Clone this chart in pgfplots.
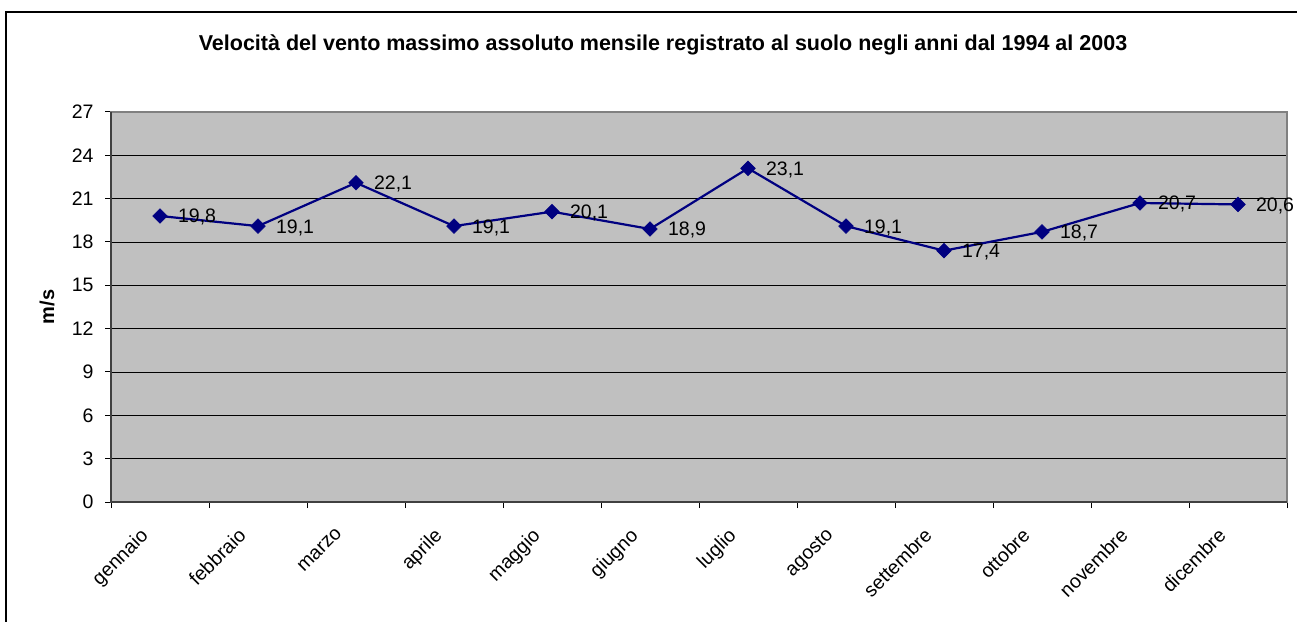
\documentclass[border=0pt]{standalone}
\usepackage{pgfplots}
\pgfplotsset{compat=1.18}
\usepackage{fontspec}
\setmainfont{Liberation Sans}
\definecolor{plotbg}{HTML}{C0C0C0}
\definecolor{navy}{HTML}{000080}
\definecolor{spine}{HTML}{808080}
\begin{document}
\begin{tikzpicture}[x=1pt,y=1pt]
\path[use as bounding box] (0,0) rectangle (1297,621);
\draw[line width=1.3pt,black] (6,-2) -- (6,609) -- (1299,609);
\node[font=\bfseries\fontsize{21.5}{24}\selectfont] at (663,576) {Velocità del vento massimo assoluto mensile registrato al suolo negli anni dal 1994 al 2003};
\node[font=\bfseries\fontsize{20}{24}\selectfont, rotate=90] at (47,314) {m/s};
\begin{axis}[
  at={(111pt,119pt)}, anchor=south west,
  scale only axis, width=1176pt, height=390pt,
  xmin=0.5, xmax=12.5, ymin=0, ymax=27,
  axis background/.style={fill=plotbg},
  axis line style={draw=spine, line width=2pt},
  ytick={0,3,...,27},
  xtick={1,...,12},
  minor xtick={0.5,1.5,...,12.5},
  xticklabels={gennaio,febbraio,marzo,aprile,maggio,giugno,luglio,agosto,settembre,ottobre,novembre,dicembre},
  ymajorgrids, major grid style={black, line width=0.9pt},
  tick align=outside, tick pos=left,
  major tick length=6pt,
  minor tick length=6pt,
  every tick/.style={black, line width=1pt},
  major x tick style={draw=none},
  ticklabel style={font=\fontsize{19.5}{22}\selectfont},
  /pgf/number format/assume math mode=true,
  xticklabel style={xshift=-21pt, yshift=-14pt, rotate=45, anchor=north east},
  yticklabel style={xshift=-8pt},
  nodes near coords,
  nodes near coords style={black, font=\fontsize{19.5}{22}\selectfont, anchor=base west, xshift=14.5pt, yshift=-7pt,
    /pgf/number format/.cd, use comma, fixed, fixed zerofill, precision=1, assume math mode=true},
  clip=false,
]
\addplot[color=navy, line width=2.2pt, mark=square*, mark size=5.2pt, mark options={rotate=45, fill=navy, draw=navy, line width=0.5pt}]
coordinates {(1,19.8) (2,19.1) (3,22.1) (4,19.1) (5,20.1) (6,18.9) (7,23.1) (8,19.1) (9,17.4) (10,18.7) (11,20.7) (12,20.6)};
\draw[color=black!75, line width=2pt] (rel axis cs:0,1) -- (rel axis cs:0,0) -- (rel axis cs:1,0);
\end{axis}
\end{tikzpicture}
\end{document}
